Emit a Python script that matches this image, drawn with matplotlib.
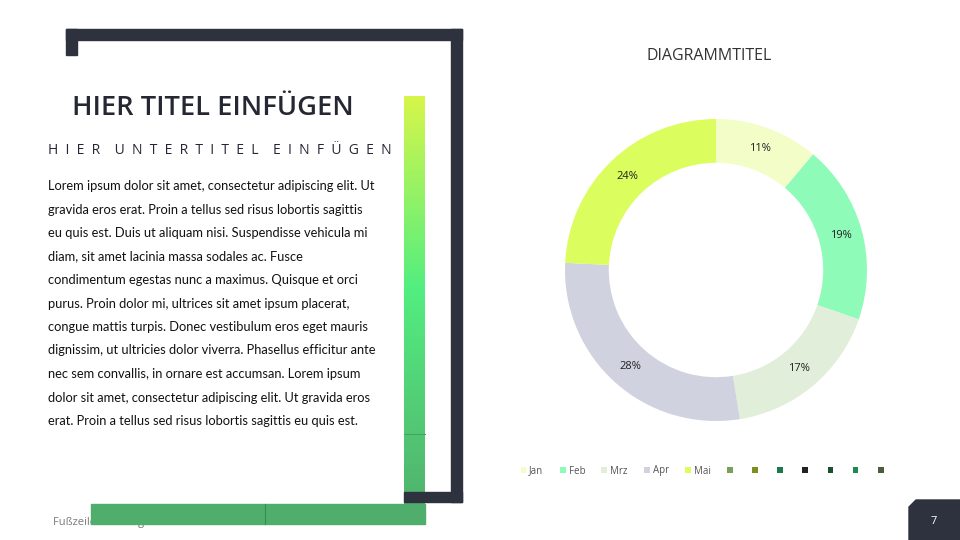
import numpy as np
import matplotlib.pyplot as plt
from matplotlib.patches import Rectangle, Polygon, Patch
from matplotlib.colors import LinearSegmentedColormap

months = ['Jan', 'Feb', 'Mrz', 'Apr', 'Mai']
shares = [11, 19, 17, 28, 24]
slice_colors = ['#f2fdc8', '#8ffbb8', '#e1eed9', '#d0d2df', '#dcfd5e']
extra_colors = ['#77a05a', '#7f8d1e', '#1a7a4e', '#222222', '#1b4f2e', '#1f8a50', '#4a5e3a']

title = 'HIER TITEL EINFÜGEN'
subtitle = 'HIER UNTERTITEL EINFÜGEN'
body = ['Lorem ipsum dolor sit amet, consectetur adipiscing elit. Ut',
        'gravida eros erat. Proin a tellus sed risus lobortis sagittis',
        'eu quis est. Duis ut aliquam nisi. Suspendisse vehicula mi',
        'diam, sit amet lacinia massa sodales ac. Fusce',
        'condimentum egestas nunc a maximus. Quisque et orci',
        'purus. Proin dolor mi, ultrices sit amet ipsum placerat,',
        'congue mattis turpis. Donec vestibulum eros eget mauris',
        'dignissim, ut ultricies dolor viverra. Phasellus efficitur ante',
        'nec sem convallis, in ornare est accumsan. Lorem ipsum',
        'dolor sit amet, consectetur adipiscing elit. Ut gravida eros',
        'erat. Proin a tellus sed risus lobortis sagittis eu quis est.']

dark = '#2e313e'
plt.rcParams['font.family'] = ['Open Sans', 'DejaVu Sans']

fig = plt.figure(figsize=(9.6, 5.4), dpi=100)
bg = fig.add_axes([0, 0, 1, 1])
bg.set_xlim(0, 960)
bg.set_ylim(540, 0)
bg.axis('off')

# gradient bar
grad = LinearSegmentedColormap.from_list('g', [(0, '#d6f64a'), (0.45, '#52ee80'),
                                               (0.79, '#52c674'), (1, '#4fae6b')])
bg.imshow(np.linspace(0, 1, 200).reshape(-1, 1), cmap=grad, aspect='auto',
          extent=[404, 425, 524, 96], zorder=1)
bg.plot([404, 425], [434, 434], color='#3fa85c', lw=0.8, zorder=2)

# footer text under bottom bar
bg.text(53, 522, 'Fußzeile hinzufügen', fontsize=8, color='#7a7a7a', va='center', zorder=1)
bg.add_patch(Rectangle((91, 504), 334, 20, color='#4fae6b', zorder=3))
bg.plot([265, 265], [504, 524], color='#2f9148', lw=0.8, zorder=4)

# dark frame
for x, y, w, h in [(66, 29, 396, 11), (66, 29, 11, 26), (451, 29, 11, 473), (404, 492, 58, 10)]:
    bg.add_patch(Rectangle((x, y), w, h, color=dark, zorder=5))

# page number box
bg.add_patch(Polygon([(909, 540), (909, 507), (916, 500), (960, 500), (960, 540)],
                     closed=True, color=dark, zorder=5))
bg.text(934, 521, '7', color='white', fontsize=8, ha='center', va='center', zorder=6)

# texts
bg.text(72, 108, title, fontsize=19.6, fontweight='semibold', color='#252733', va='center')
bg.text(48, 151, '    '.join('  '.join(w) for w in subtitle.split()), fontsize=10,
        color='#252733', va='center')
for i, line in enumerate(body):
    bg.text(48, 186 + i * 23.5, line, fontsize=9.3, color='#111111', va='center',
            family=['Lato', 'DejaVu Sans'])

fig.text(709 / 960, 1 - 56 / 540, 'DIAGRAMMTITEL', fontsize=11.5, color='#333333',
         ha='center', va='center')

# donut
cx, cy, r = 716, 270, 151
ax = fig.add_axes([(cx - r) / 960, (540 - cy - r) / 540, 2 * r / 960, 2 * r / 540])
ax.pie(shares, colors=slice_colors, startangle=90, counterclock=False,
       autopct='%1.0f%%', pctdistance=0.855,
       wedgeprops=dict(width=0.29, linewidth=0),
       textprops=dict(fontsize=8, color='#222222'))
ax.set_xlim(-1, 1)
ax.set_ylim(-1, 1)
ax.set_aspect('equal')

handles = [Patch(facecolor=c, edgecolor='none') for c in slice_colors + extra_colors]
labels = months + [''] * len(extra_colors)
fig.legend(handles, labels, ncol=12, loc='center', bbox_to_anchor=(703.5 / 960, 1 - 471 / 540),
           frameon=False, fontsize=7, handlelength=0.6, handleheight=0.6,
           handletextpad=0.3, columnspacing=1.68, labelcolor='#555555')

fig.savefig('out.png', dpi=100)
